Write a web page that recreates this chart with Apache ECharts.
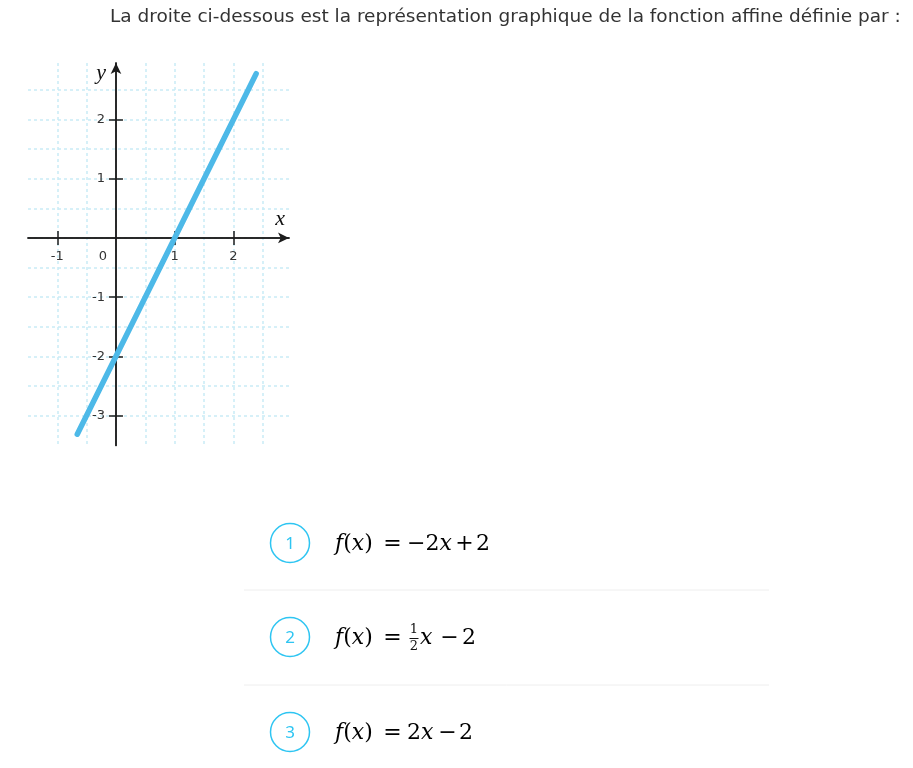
<!DOCTYPE html>
<html><head><meta charset="utf-8">
<script src="https://cdn.jsdelivr.net/npm/echarts@6/dist/echarts.min.js"></script>
<style>html,body{margin:0;padding:0;background:#fff}#c{width:913px;height:768px}</style>
</head><body><div id="c"></div>
<script>
// ---- data ----
const titleText = 'La droite ci-dessous est la représentation graphique de la fonction affine définie par :';
const xTickValues = [-1, 1, 2];
const xLabelValues = [-1, 0, 1, 2];
const yTickValues = [-3, -2, -1, 1, 2];
const yLabelValues = [-3, -2, -1, 1, 2];
const lineX = [-0.66, 2.39];
const lineY = [-3.31, 2.77];
const choiceNumbers = ['1', '2', '3'];

// ---- chart ----
const chart = echarts.init(document.getElementById('c'), null, {renderer: 'canvas'});
const axisColor = '#1c1c1c';
const X_MIN = -1.5, X_MAX = 2.95, Y_MIN = -3.5, Y_MAX = 2.95;
const gridLine = {show: true, showMinLine: false, showMaxLine: false,
  lineStyle: {color: '#c9ecf6', width: 1.5, type: [3, 3]}};
const labelStyle = {color: '#333', fontSize: 13, fontFamily: 'DejaVu Sans'};
const nameFont = {fontFamily: 'Liberation Serif', fontStyle: 'italic', fontSize: 22, color: '#111'};
const axLine = (arrow) => ({show: true, onZero: false, symbol: arrow ? ['none', 'arrow'] : 'none', symbolSize: [8, 11],
  lineStyle: {color: axisColor, width: 1.5}});

function xAxes(off) {
  return [
    { // main x axis: line, arrow, downward ticks, labels
      type: 'value', min: X_MIN, max: X_MAX, interval: 0.5, position: 'bottom', offset: off.bottom,
      axisLine: axLine(true),
      axisTick: {show: true, length: 7, customValues: xTickValues, lineStyle: {color: axisColor, width: 1.5}},
      axisLabel: {show: true, customValues: xLabelValues, margin: 12, ...labelStyle,
        formatter: v => v === 0 ? '{z|0}' : String(v),
        rich: {z: {padding: [0, 26, 0, 0], ...labelStyle}}},
      splitLine: {show: false},
      name: 'x', nameLocation: 'end', nameGap: -4,
      nameTextStyle: {...nameFont, align: 'right', verticalAlign: 'bottom', padding: [0, 0, 8, 0]}
    },
    { // upward half of the ticks
      type: 'value', min: X_MIN, max: X_MAX, interval: 0.5, position: 'top', offset: off.top,
      axisLine: axLine(false),
      axisTick: {show: true, length: 7, customValues: xTickValues, lineStyle: {color: axisColor, width: 1.5}},
      axisLabel: {show: false}, splitLine: {show: false}
    },
    { // grid lines every 0.5
      type: 'value', min: X_MIN, max: X_MAX, interval: 0.5, position: 'bottom',
      axisLine: {show: false, onZero: false}, axisTick: {show: false}, axisLabel: {show: false},
      splitLine: gridLine
    }
  ];
}
function yAxes(off) {
  return [
    {
      type: 'value', min: Y_MIN, max: Y_MAX, interval: 0.5, position: 'left', offset: off.left,
      axisLine: axLine(true),
      axisTick: {show: true, length: 7, customValues: yTickValues, lineStyle: {color: axisColor, width: 1.5}},
      axisLabel: {show: true, customValues: yLabelValues, margin: 11, ...labelStyle},
      splitLine: {show: false},
      name: 'y', nameLocation: 'end', nameGap: -10,
      nameTextStyle: {...nameFont, align: 'right', verticalAlign: 'middle', padding: [0, 10, 0, 0]}
    },
    {
      type: 'value', min: Y_MIN, max: Y_MAX, interval: 0.5, position: 'right', offset: off.right,
      axisLine: axLine(false),
      axisTick: {show: true, length: 7, customValues: yTickValues, lineStyle: {color: axisColor, width: 1.5}},
      axisLabel: {show: false}, splitLine: {show: false}
    },
    {
      type: 'value', min: Y_MIN, max: Y_MAX, interval: 0.5, position: 'left',
      axisLine: {show: false, onZero: false}, axisTick: {show: false}, axisLabel: {show: false},
      splitLine: gridLine
    }
  ];
}

// ---- texts ----
const mathFont = 'DejaVu Serif';
const mt = (text, x, y, opts) => ({type: 'text', style: Object.assign({text: text, x: x, y: y, verticalAlign: 'middle',
  font: '22px "' + mathFont + '"', fill: '#111'}, opts || {})});
const rich = {
  i: {fontFamily: mathFont, fontStyle: 'italic', fontSize: 22, color: '#111'},
  n: {fontFamily: mathFont, fontSize: 22, color: '#111'}
};
const rt = (text, x, y, align) => ({type: 'text', style: {text: text, x: x, y: y, verticalAlign: 'middle',
  align: align || 'left', rich: rich}});

const rowY = [544, 638, 733];
const graphics = [
  {type: 'text', style: {text: titleText, x: 110, y: 17, verticalAlign: 'middle', font: '18.5px "DejaVu Sans"', fill: '#333'}}
];
rowY.forEach((cy, k) => {
  graphics.push({type: 'circle', shape: {cx: 290, cy: cy - 1, r: 19.5},
    style: {fill: 'none', stroke: '#2ec5f2', lineWidth: 1.5}});
  graphics.push({type: 'text', style: {text: choiceNumbers[k], x: 290, y: cy, align: 'center', verticalAlign: 'middle',
    font: '17px "Noto Sans"', fill: '#2ec5f2'}});
  graphics.push(rt('{i|f}{n|(}{i|x}{n|)}', 335, cy));
  graphics.push(rt('{n|=}', 392.5, cy, 'center'));
});
[590, 685].forEach(y => graphics.push({type: 'line', shape: {x1: 244, y1: y, x2: 769, y2: y},
  style: {stroke: '#eeeeee', lineWidth: 1}}));
// formula 1: -2x + 2
graphics.push(rt('{n|−2}{i|x}', 407, rowY[0]));
graphics.push(rt('{n|+}', 464.5, rowY[0], 'center'));
graphics.push(rt('{n|2}', 476, rowY[0]));
// formula 2: 1/2 x - 2
graphics.push(mt('1', 414, rowY[1] - 8, {align: 'center', font: '13px "' + mathFont + '"'}));
graphics.push({type: 'line', shape: {x1: 409.5, y1: rowY[1] + 0.5, x2: 418.5, y2: rowY[1] + 0.5}, style: {stroke: '#111', lineWidth: 1}});
graphics.push(mt('2', 414, rowY[1] + 9, {align: 'center', font: '13px "' + mathFont + '"'}));
graphics.push(rt('{i|x}', 420, rowY[1]));
graphics.push(rt('{n|−}', 449.5, rowY[1], 'center'));
graphics.push(rt('{n|2}', 462, rowY[1]));
// formula 3: 2x - 2
graphics.push(rt('{n|2}{i|x}', 407, rowY[2]));
graphics.push(rt('{n|−}', 447.5, rowY[2], 'center'));
graphics.push(rt('{n|2}', 459, rowY[2]));

const gridBox = {left: 28, top: 63, width: 261, height: 382.5};
function build(off) {
  return {
    animation: false,
    backgroundColor: '#fff',
    grid: {...gridBox, containLabel: false},
    xAxis: xAxes(off),
    yAxis: yAxes(off),
    series: [{
      type: 'line', xAxisIndex: 0, yAxisIndex: 0, symbol: 'none', z: 5,
      data: lineX.map((x, i) => [x, lineY[i]]),
      lineStyle: {color: '#4db9e8', width: 5.5, cap: 'round'}
    }],
    graphic: graphics
  };
}
chart.setOption(build({bottom: 0, top: 0, left: 0, right: 0}));
// place axes on the zero lines
const zero = chart.convertToPixel({gridIndex: 0}, [0, 0]);
const r = chart.getModel().getComponent('grid', 0).coordinateSystem.getRect();
chart.setOption(build({
  bottom: zero[1] - (r.y + r.height),
  top: r.y - zero[1],
  left: r.x - zero[0],
  right: zero[0] - (r.x + r.width)
}), true);
</script></body></html>
